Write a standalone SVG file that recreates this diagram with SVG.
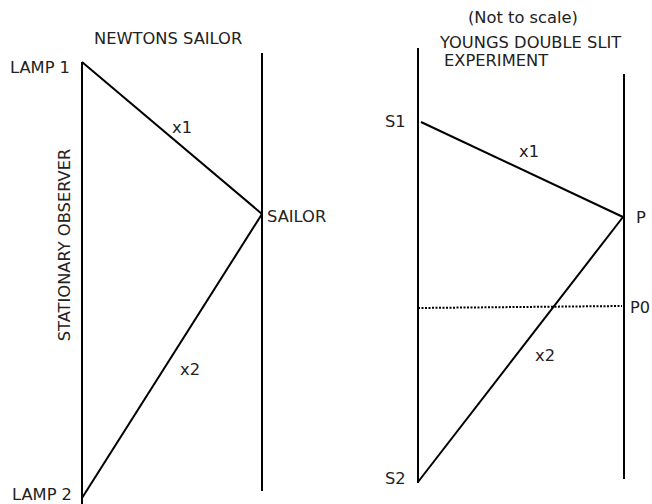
<svg xmlns="http://www.w3.org/2000/svg" width="652" height="504" viewBox="0 0 652 504">
<style>
.t{font-family:"DejaVu Sans","Liberation Sans",sans-serif;font-size:16.3px;fill:#222}
.l{stroke:#000;stroke-width:2;fill:none;stroke-linecap:butt}
.d{stroke:#000;stroke-width:2;stroke-dasharray:2 1.5;fill:none}
</style>
<rect width="652" height="504" fill="#fff"/>
<g id="left-frame">
<text class="t" x="94" y="44">NEWTONS SAILOR</text>
<text class="t" transform="translate(70,245) rotate(-90)" text-anchor="middle">STATIONARY OBSERVER</text>
</g>
<g id="lamp1"><text class="t" x="10" y="73">LAMP 1</text></g>
<g id="lamp2"><text class="t" x="12" y="500">LAMP 2</text></g>
<g id="sailor"><text class="t" x="267" y="222">SAILOR</text></g>
<g id="right-frame">
<text class="t" x="468" y="23">(Not to scale)</text>
<text class="t" x="440" y="48">YOUNGS DOUBLE SLIT</text>
<text class="t" x="444" y="66">EXPERIMENT</text>
</g>
<g id="s1"><text class="t" x="385" y="127">S1</text></g>
<g id="s2"><text class="t" x="385" y="484">S2</text></g>
<g id="p"><text class="t" x="636" y="223">P</text></g>
<g id="p0"><text class="t" x="630" y="313" textLength="20" lengthAdjust="spacingAndGlyphs">P0</text></g>
<g id="connectors">
<line class="l" x1="82" y1="62" x2="82" y2="504"/>
<line class="l" x1="262" y1="53" x2="262" y2="491"/>
<line class="l" x1="82" y1="62" x2="262" y2="214"/>
<line class="l" x1="262" y1="214" x2="82" y2="498"/>
<text class="t" x="172" y="133">x1</text>
<text class="t" x="180" y="375">x2</text>
<line class="l" x1="418" y1="48" x2="418" y2="483"/>
<line class="l" x1="624" y1="74" x2="624" y2="479"/>
<line class="l" x1="421" y1="122" x2="623" y2="217"/>
<line class="l" x1="623" y1="217" x2="418" y2="482"/>
<line class="d" x1="418" y1="308" x2="622" y2="306"/>
<text class="t" x="519" y="157">x1</text>
<text class="t" x="535" y="361">x2</text>
</g>
</svg>
